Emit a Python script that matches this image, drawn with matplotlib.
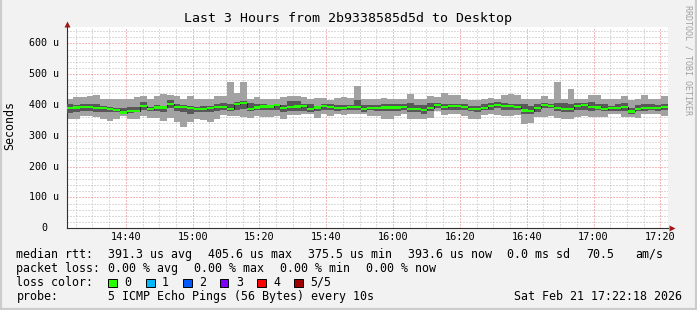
import numpy as np
import matplotlib
matplotlib.use("Agg")
import matplotlib.pyplot as plt
from matplotlib.lines import Line2D
from matplotlib.patches import Rectangle

W, H = 697, 310
MONO = "DejaVu Sans Mono"
plt.rcParams["lines.scale_dashes"] = False

# smokeping rtt per 2-minute step (microseconds), 90 steps = last 3 hours
median = [389, 392, 394, 394, 391, 391, 387, 384, 375.5, 381,
          381, 398, 388, 392, 392, 402, 394, 394, 390, 388,
          388, 390, 394, 394, 387, 402, 405.6, 388, 392, 395,
          395, 400, 391, 393, 395, 397, 386, 392, 397, 394,
          390, 390, 393, 393, 388, 391, 389, 392, 392, 392,
          394, 386, 388, 383, 391, 401, 393, 396, 398, 393,
          388, 388, 391, 396, 400, 398, 398, 393, 382, 380,
          389, 400, 397, 391, 388, 388, 397, 400, 393, 392,
          388, 390, 389, 394, 379, 386, 391, 389, 389, 393.6]
ping_max = [418, 425, 425, 429, 432, 421, 419, 421, 421, 421,
            425, 430, 421, 430, 437, 434, 430, 421, 430, 419,
            419, 421, 430, 430, 473, 438, 474, 421, 425, 421,
            419, 419, 425, 430, 428, 425, 421, 423, 423, 416,
            423, 425, 423, 463, 421, 419, 421, 423, 421, 419,
            421, 436, 421, 421, 430, 425, 440, 434, 434, 421,
            415, 417, 421, 423, 419, 434, 436, 432, 421, 421,
            421, 430, 421, 473, 421, 453, 421, 421, 432, 432,
            421, 419, 419, 430, 415, 421, 432, 421, 421, 428]
ping_hi = [402, 400, 402, 403, 402, 397, 394, 391, 389, 393,
           395, 410, 395, 400, 397, 417, 402, 400, 397, 394,
           397, 396, 402, 405, 402, 410, 412, 408, 404, 402,
           400, 402, 400, 413, 413, 404, 402, 397, 404, 402,
           400, 400, 400, 415, 400, 400, 400, 404, 402, 404,
           402, 406, 400, 400, 406, 406, 404, 404, 404, 402,
           397, 397, 402, 406, 410, 406, 404, 402, 402, 397,
           402, 406, 404, 406, 406, 402, 408, 406, 410, 404,
           404, 397, 404, 408, 391, 400, 402, 402, 400, 402]
ping_lo = [375, 378, 380, 380, 376, 378, 376, 376, 373, 374,
           376, 383, 380, 380, 378, 389, 380, 378, 370, 378,
           378, 378, 382, 385, 380, 385, 388, 380, 385, 385,
           385, 385, 378, 382, 380, 382, 378, 380, 385, 385,
           382, 385, 385, 385, 378, 385, 382, 382, 382, 380,
           385, 378, 378, 372, 382, 389, 385, 385, 385, 385,
           382, 378, 385, 385, 389, 385, 385, 385, 372, 372,
           376, 389, 389, 380, 378, 378, 385, 385, 382, 385,
           380, 380, 382, 380, 372, 380, 382, 385, 382, 385]
ping_min = [356, 353, 365, 363, 362, 356, 348, 356, 365, 356,
            356, 365, 359, 359, 348, 359, 346, 329, 346, 356,
            351, 346, 356, 367, 365, 365, 362, 359, 365, 362,
            362, 365, 354, 367, 367, 370, 370, 359, 370, 365,
            370, 367, 370, 370, 370, 365, 365, 356, 356, 365,
            370, 354, 354, 354, 359, 380, 367, 370, 370, 365,
            356, 356, 367, 370, 367, 365, 365, 367, 337, 340,
            362, 362, 365, 359, 356, 356, 362, 365, 362, 362,
            362, 370, 370, 362, 362, 359, 370, 370, 370, 365]

t_start = 22.3    # minutes after 14:00 (14:22:18)
step_min = 2
span_min = 180

xtick_min = [40, 60, 80, 100, 120, 140, 160, 180, 200]
xtick_labels = ["14:40", "15:00", "15:20", "15:40", "16:00",
                "16:20", "16:40", "17:00", "17:20"]
ytick_vals = [0, 100, 200, 300, 400, 500, 600]
y_top = 653

title = "Last 3 Hours from 2b9338585d5d to Desktop"
rtt_row = [("median rtt:", 16.5), ("391.3 us avg", 107.8), ("405.6 us max", 207.6),
           ("375.5 us min", 308), ("393.6 us now", 408), ("0.0 ms sd", 506.7),
           ("70.5", 586.7), ("am/s", 635)]
loss_row = [("packet loss:", 16.5), ("0.00 % avg", 107.8), ("0.00 % max", 194),
            ("0.00 % min", 280), ("0.00 % now", 366)]
loss_labels = ["0", "1", "2", "3", "4", "5/5"]
loss_colors = ["#26ff00", "#00b8ff", "#0059ff", "#7e00ff", "#ff0000", "#a10000"]
loss_x = [108, 146, 183, 220, 257, 294]
probe_text = "5 ICMP Echo Pings (56 Bytes) every 10s"
stamp = "Sat Feb 21 17:22:18 2026"


def fx(px):
    return px / W


def fy(py):
    return 1 - py / H


def stepped(a):
    a = np.asarray(a, dtype=float)
    return np.append(a, a[-1])


fig = plt.figure(figsize=(W / 100, H / 100), dpi=100, facecolor="#f2f2f2")
ax = fig.add_axes([fx(66.7), fy(228.3), (668 - 66.7) / W, (228.3 - 27) / H])
ax.set_facecolor("white")

edges = t_start + step_min * np.arange(len(median) + 1)
med = stepped(median)
sw = 3.4  # half height of the loss-colour band
ax.fill_between(edges, stepped(ping_min), stepped(ping_max), step="post",
                color="#a2a2a2", lw=0, zorder=2)
ax.fill_between(edges, stepped(ping_lo), stepped(ping_hi), step="post",
                color="#585858", lw=0, zorder=3)
ax.step(edges, med, where="post", color="#202020", lw=0.7, zorder=4)
ax.fill_between(edges, med - sw, med + sw, step="post",
                color=loss_colors[0], lw=0, zorder=5)

ax.set_xlim(t_start, t_start + span_min)
ax.set_ylim(0, y_top)
ax.set_xticks(xtick_min)
ax.set_xticklabels(xtick_labels, family=MONO, fontsize=7.4)
ax.set_xticks(np.arange(25, t_start + span_min, 5), minor=True)
ax.set_yticks(ytick_vals)
ax.set_yticks(np.arange(0, y_top, 20), minor=True)
ax.tick_params(axis="both", which="both", length=0)
ax.tick_params(axis="x", pad=3)
ax.tick_params(axis="y", labelleft=False)
ax.set_axisbelow(True)
ax.grid(which="minor", color="#b8b8b8", ls=(0, (0.72, 1.44)), lw=0.72)
ax.grid(which="major", color="#e87878", ls=(0, (0.72, 1.44)), lw=0.72)

for side in ("top", "right"):
    ax.spines[side].set_visible(False)
for side in ("left", "bottom"):
    ax.spines[side].set_color("#303030")
    ax.spines[side].set_linewidth(0.8)

ax.plot([0], [1.015], marker="^", ms=4.5, color="#a01818", mec="none",
        transform=ax.transAxes, clip_on=False)
ax.plot([1.006], [0], marker=">", ms=4.5, color="#a01818", mec="none",
        transform=ax.transAxes, clip_on=False)

ytrans = ax.get_yaxis_transform()
for v in ytick_vals:
    if v == 0:
        ax.text((47.7 - 66.7) / 601.3, v, "0", transform=ytrans, ha="right",
                va="center", family=MONO, fontsize=7.2)
    else:
        ax.text((59.3 - 66.7) / 601.3, v, f"{v} u", transform=ytrans, ha="right",
                va="center", family=MONO, fontsize=7.2)

fig.text(fx(348.5), fy(18.5), title, ha="center", va="center", family=MONO, fontsize=9.5)
fig.text(fx(10), fy(126), "Seconds", rotation=90, ha="center", va="center",
         family=MONO, fontsize=8.4)
fig.text(fx(688.3), fy(5), "RRDTOOL / TOBI OETIKER", rotation=270, ha="center",
         va="top", family=MONO, fontsize=6, color="#a0a0a0")

for txt, x in rtt_row:
    fig.text(fx(x), fy(254.3), txt, ha="left", va="center", family=MONO, fontsize=8.4)
for txt, x in loss_row:
    fig.text(fx(x), fy(268.3), txt, ha="left", va="center", family=MONO, fontsize=8.4)
fig.text(fx(16.5), fy(282.3), "loss color:", ha="left", va="center", family=MONO, fontsize=8.4)
for lab, c, x in zip(loss_labels, loss_colors, loss_x):
    fig.add_artist(Rectangle((fx(x), fy(286.5)), 8.5 / W, 8 / H, transform=fig.transFigure,
                             facecolor=c, edgecolor="black", lw=0.7))
    fig.text(fx(x + 16), fy(282.3), lab, ha="left", va="center", family=MONO, fontsize=8.4)
fig.text(fx(16.5), fy(296.3), "probe:", ha="left", va="center", family=MONO, fontsize=8.4)
fig.text(fx(107.8), fy(296.3), probe_text, ha="left", va="center", family=MONO, fontsize=8.4)
fig.text(fx(681.5), fy(296.3), stamp, ha="right", va="center", family=MONO, fontsize=8.4)

# frame around the canvas
for xs, ys in [((0.5, 0.5), (0, H)), ((W - 1.5, W - 1.5), (0, H)), ((0, W), (H - 1.5, H - 1.5))]:
    fig.add_artist(Line2D([fx(x) for x in xs], [fy(y) for y in ys], color="#cccccc",
                          lw=1.6, transform=fig.transFigure))

fig.savefig("out.png", dpi=100, facecolor=fig.get_facecolor())
